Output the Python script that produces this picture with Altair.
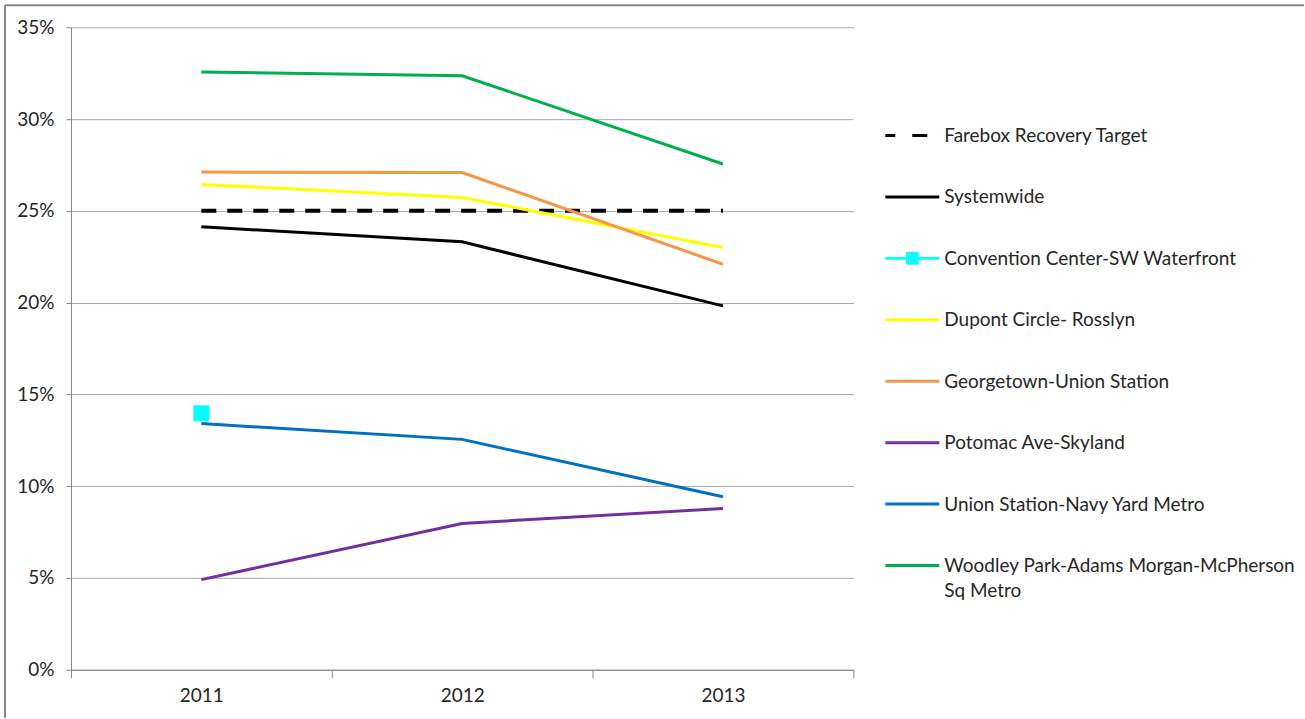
import altair as alt
import pandas as pd

years = ["2011", "2012", "2013"]

series_names = [
    "Farebox Recovery Target",
    "Systemwide",
    "Convention Center-SW Waterfront",
    "Dupont Circle- Rosslyn",
    "Georgetown-Union Station",
    "Potomac Ave-Skyland",
    "Union Station-Navy Yard Metro",
    "Woodley Park-Adams Morgan-McPherson Sq Metro",
]
legend_labels = [
    "Farebox Recovery Target",
    "Systemwide",
    "Convention Center-SW Waterfront",
    "Dupont Circle- Rosslyn",
    "Georgetown-Union Station",
    "Potomac Ave-Skyland",
    "Union Station-Navy Yard Metro",
    "Woodley Park-Adams Morgan-McPherson\nSq Metro",
]
series_colors = ["#000000", "#000000", "#00FFFF", "#FFFF00",
                 "#F79646", "#7030A0", "#0070C0", "#00B050"]

target_values = [0.25, 0.25, 0.25]
systemwide_values = [0.2413, 0.2331, 0.1982]
convention_values = [0.1397, None, None]
dupont_values = [0.2644, 0.2573, 0.2300]
georgetown_values = [0.2711, 0.2709, 0.2209]
potomac_values = [0.0491, 0.0797, 0.0878]
union_values = [0.1341, 0.1255, 0.0942]
woodley_values = [0.3256, 0.3236, 0.2755]

all_values = [target_values, systemwide_values, convention_values, dupont_values,
              georgetown_values, potomac_values, union_values, woodley_values]

rows = []
for name, vals in zip(series_names, all_values):
    for y, v in zip(years, vals):
        if v is not None:
            rows.append({"series": name, "year": y, "value": v})
df = pd.DataFrame(rows)

legend_df = pd.DataFrame({
    "series": series_names,
    "label": legend_labels,
    "row": list(range(len(series_names))),
})

FONT = "Lato"
TXT = "#262626"
W, H = 783, 643

color_scale = alt.Scale(domain=series_names, range=series_colors)

x_enc = alt.X("year:N", sort=years,
              scale=alt.Scale(type="band", paddingInner=0, paddingOuter=0),
              axis=alt.Axis(title=None, labelAngle=0, tickBand="extent", tickSize=8,
                            labelPadding=9, labelFontSize=19, labelFont=FONT,
                            labelColor=TXT, domainColor="#868686", tickColor="#868686",
                            grid=False))
y_enc = alt.Y("value:Q", scale=alt.Scale(domain=[0, 0.35], nice=False),
              axis=alt.Axis(title=None, values=[0, 0.05, 0.10, 0.15, 0.20, 0.25, 0.30, 0.35],
                            format=".0%", tickSize=5, labelPadding=12, labelFontSize=19,
                            labelFont=FONT, labelColor=TXT, domainColor="#868686",
                            tickColor="#868686", gridColor="#A6A6A6", grid=True))

base = alt.Chart(df)

target_line = base.transform_filter(
    alt.datum.series == "Farebox Recovery Target"
).mark_line(strokeDash=[15, 11], strokeWidth=4, color="#000000").encode(x=x_enc, y=y_enc)

solid_lines = base.transform_filter(
    (alt.datum.series != "Farebox Recovery Target")
    & (alt.datum.series != "Convention Center-SW Waterfront")
).mark_line(strokeWidth=3).encode(
    x=x_enc, y=y_enc,
    color=alt.Color("series:N", scale=color_scale, legend=None),
    order=alt.Order("series:N"),
)

conv_pts = base.transform_filter(
    alt.datum.series == "Convention Center-SW Waterfront"
).mark_point(shape="square", filled=True, size=256, opacity=1).encode(
    x=x_enc, y=y_enc,
    color=alt.Color("series:N", scale=color_scale, legend=None),
)

main = alt.layer(target_line, solid_lines, conv_pts)

# Legend drawn from the series list
row_scale = alt.Scale(domain=[-1.763, 8.698], reverse=True, nice=False, zero=False)
lg = alt.Chart(legend_df)
lg_rules = lg.mark_rule(strokeWidth=3).encode(
    x=alt.value(815), x2=alt.value(869),
    y=alt.Y("row:Q", scale=row_scale, axis=None),
    color=alt.Color("series:N", scale=color_scale, legend=None),
    strokeDash=alt.condition(alt.datum.series == "Farebox Recovery Target",
                             alt.value([10, 17, 15, 20]), alt.value([1, 0])),
    strokeWidth=alt.condition(alt.datum.series == "Farebox Recovery Target",
                              alt.value(4), alt.value(3.5)),
)
lg_sq = lg.transform_filter(
    alt.datum.series == "Convention Center-SW Waterfront"
).mark_point(shape="square", filled=True, size=160, opacity=1).encode(
    x=alt.value(842),
    y=alt.Y("row:Q", scale=row_scale, axis=None),
    color=alt.Color("series:N", scale=color_scale, legend=None),
)
lg_text = lg.mark_text(align="left", baseline="top", dy=-8.5, lineBreak="\n",
                       lineHeight=25.5, fontSize=19, font=FONT, color=TXT).encode(
    x=alt.value(874),
    y=alt.Y("row:Q", scale=row_scale, axis=None),
    text="label:N",
)
legend = alt.layer(lg_rules, lg_sq, lg_text)

frame = alt.Chart(pd.DataFrame({"k": [0]}))
border_top = frame.mark_rule(stroke="#878787", strokeWidth=2).encode(
    x=alt.value(-66), x2=alt.value(1234), y=alt.value(-22))
border_left = frame.mark_rule(stroke="#878787", strokeWidth=2).encode(
    x=alt.value(-66), y=alt.value(-22), y2=alt.value(691))

chart = alt.layer(main, legend, border_top, border_left).resolve_scale(
    y="independent", color="shared"
).properties(
    width=W, height=H,
    padding={"left": 4, "top": 4, "right": 0, "bottom": 0},
    background="white",
).configure_view(stroke=None)

chart.save("out.html", embed_options={"renderer": "svg", "actions": False})
